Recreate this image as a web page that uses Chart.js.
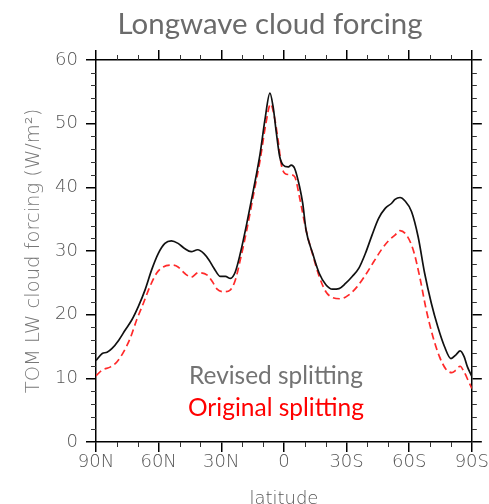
<!DOCTYPE html>
<html><head><meta charset="utf-8">
<script src="https://cdn.jsdelivr.net/npm/chart.js@4.4.1/dist/chart.umd.min.js"></script>
<style>html,body{margin:0;padding:0;background:#fff;overflow:hidden}#wrap{width:489px;height:504px}</style>
</head><body><div id="wrap"><canvas id="c" width="489" height="504"></canvas></div>
<script>
// latitude: positive = N, negative = S
const revisedLat = [90,87,84.7,82.3,79.1,76,72.8,69.7,66.5,63.4,60.2,57,53.9,50.7,47.6,44.4,41.3,38.3,35.9,33.5,30.4,28,25.6,23.3,20.9,17.8,14.6,11.4,9.1,6.7,5.2,3.6,2,0.4,-2,-3.5,-5.1,-7.5,-9,-10.6,-13.8,-16.9,-20.1,-23.2,-26.4,-29.5,-32.7,-35.9,-39,-42.2,-45.3,-48.5,-51.6,-53.2,-55.6,-57.9,-61.1,-64.3,-67.4,-70.6,-73.7,-76.9,-80,-82.4,-84.4,-86.3,-87.9,-90];
const revisedLW = [12.8,13.9,14.1,14.7,16.0,17.6,19.2,21.3,23.9,27.0,29.6,31.2,31.6,31.2,30.4,29.9,30.2,29.6,28.6,27.3,26.0,26.0,25.7,26.7,29.6,34.3,39.6,45.3,50.6,54.8,52.7,48.5,44.8,43.5,43.2,43.5,43.0,40.1,37.5,33.3,29.6,26.5,24.7,24.0,24.1,24.9,26.0,27.3,29.6,32.5,35.1,36.7,37.5,38.1,38.4,37.9,36.2,32.2,26.5,21.8,18.1,15.0,13.1,13.7,14.3,13.4,11.8,10.3];
const originalLat = [90,87,83,79.9,76.7,73.6,70.5,67.3,64.2,61,57.8,53.9,50.7,47.6,44.4,41,36.7,34.3,32,28.8,25.6,23.3,20.9,17.8,14.6,11.4,8.6,6.4,4.3,2.8,1.2,-0.4,-2.7,-5.1,-7.5,-10.6,-13.8,-16.9,-20.1,-23.2,-27.2,-31.1,-35.1,-39,-43,-46.9,-50.1,-53.2,-55.6,-58.7,-61.9,-65,-68.2,-71.4,-74.5,-77.7,-80.4,-82.4,-84.4,-86.3,-88.2,-90];
const originalLW = [10.4,11.3,11.8,12.6,14.2,16.3,19.2,21.8,24.4,26.5,27.5,27.8,27.5,26.5,25.9,26.6,26.2,25.2,24.0,23.6,23.9,25.4,28.6,33.3,38.8,44.3,50.1,53.1,50.6,47.4,43.5,42.2,42.0,41.7,38.4,33.3,29.4,26.0,23.6,22.7,22.5,23.1,24.4,26.2,28.3,30.3,31.6,32.5,33.2,32.5,30.2,26.0,20.7,16.5,13.4,11.4,10.9,11.3,11.9,11.0,9.7,8.4];
const seriesNames = ['Revised splitting','Original splitting'];
const chartTitle = 'Longwave cloud forcing';
const yTitle = 'TOM LW cloud forcing (W/m\u00B2)';
const xTitle = 'latitude';
const latLabel = v => v > 0 ? v + 'N' : (v < 0 ? (-v) + 'S' : '0');

const tickFont = {family: 'DejaVu Sans', size: 18, weight: 200};
const axisCommon = () => ({
  grid: {drawOnChartArea: false, drawTicks: true, tickLength: 10, color: '#000', lineWidth: 1.5},
  border: {display: true, color: '#000', width: 1.5},
});

function fitFont(ctx, text, family, target, base) {
  ctx.font = base + 'px ' + family;
  const w = ctx.measureText(text).width;
  return base * target / w;
}

const minorTicks = {
  id: 'minorTicks',
  afterDraw(chart) {
    const {ctx, chartArea: a, scales} = chart;
    ctx.save();
    ctx.strokeStyle = '#333';
    ctx.lineWidth = 1;
    for (let v = -90; v <= 90; v += 10) {
      if (v % 30 === 0) continue;
      const px = Math.round(scales.x.getPixelForValue(v)) + 0.5;
      ctx.beginPath();
      ctx.moveTo(px, a.bottom); ctx.lineTo(px, a.bottom + 5);
      ctx.moveTo(px, a.top); ctx.lineTo(px, a.top - 5);
      ctx.stroke();
    }
    for (let v = 0; v <= 60; v += 2) {
      if (v % 10 === 0) continue;
      const py = Math.round(scales.y.getPixelForValue(v)) + 0.5;
      ctx.beginPath();
      ctx.moveTo(a.left, py); ctx.lineTo(a.left - 5, py);
      ctx.moveTo(a.right, py); ctx.lineTo(a.right + 5, py);
      ctx.stroke();
    }
    ctx.restore();
  }
};

const texts = {
  id: 'texts',
  afterDraw(chart) {
    const ctx = chart.ctx;
    ctx.save();
    ctx.textBaseline = 'alphabetic';
    let s = fitFont(ctx, chartTitle, 'Lato', 305, 28);
    ctx.font = s + 'px Lato';
    ctx.fillStyle = '#6b6b6b';
    ctx.textAlign = 'center';
    ctx.fillText(chartTitle, 270, 34);
    ctx.textAlign = 'left';
    s = fitFont(ctx, seriesNames[0], 'Lato', 174, 22);
    ctx.font = s + 'px Lato';
    ctx.fillStyle = '#737373';
    ctx.fillText(seriesNames[0], 189, 384);
    s = fitFont(ctx, seriesNames[1], 'Lato', 176, 22);
    ctx.font = s + 'px Lato';
    ctx.fillStyle = '#ff0000';
    ctx.fillText(seriesNames[1], 188, 416);
    ctx.restore();
  }
};

new Chart(document.getElementById('c'), {
  type: 'line',
  data: {
    datasets: [
      {label: seriesNames[0], data: revisedLat.map((x, i) => ({x, y: revisedLW[i]})),
       borderColor: '#111', borderWidth: 1.7, pointRadius: 0, cubicInterpolationMode: 'monotone', fill: false},
      {label: seriesNames[1], data: originalLat.map((x, i) => ({x, y: originalLW[i]})),
       borderColor: '#ff2a2a', borderWidth: 1.7, borderDash: [7, 4], pointRadius: 0, cubicInterpolationMode: 'monotone', fill: false}
    ]
  },
  options: {
    responsive: false, animation: false, devicePixelRatio: 1,
    layout: {padding: 0},
    plugins: {legend: {display: false}, title: {display: false}, tooltip: {enabled: false}},
    scales: {
      x: {type: 'linear', position: 'bottom', min: -90, max: 90, reverse: true,
          ticks: {stepSize: 30, autoSkip: false, maxRotation: 0, padding: 0, color: '#555', font: tickFont, callback: v => latLabel(v)},
          title: {display: true, text: xTitle, color: '#555', font: tickFont, padding: {top: 0, bottom: -6}},
          ...axisCommon(), afterFit: s => { s.height = 62; }},
      x2: {type: 'linear', position: 'top', min: -90, max: 90, reverse: true,
          ticks: {stepSize: 30, display: false}, ...axisCommon(), afterFit: s => { s.height = 60; }},
      y: {type: 'linear', position: 'left', min: 0, max: 60,
          ticks: {stepSize: 10, padding: 8, color: '#555', font: tickFont},
          title: {display: true, text: yTitle, color: '#777', font: {family: 'DejaVu Sans', size: 19.5, weight: 200}, padding: {top: 22, bottom: 0}},
          ...axisCommon(), afterFit: s => { s.width = 96; }},
      y2: {type: 'linear', position: 'right', min: 0, max: 60,
          ticks: {stepSize: 10, display: false}, ...axisCommon(), afterFit: s => { s.width = 13; }}
    }
  },
  plugins: [minorTicks, texts]
});
</script></body></html>
